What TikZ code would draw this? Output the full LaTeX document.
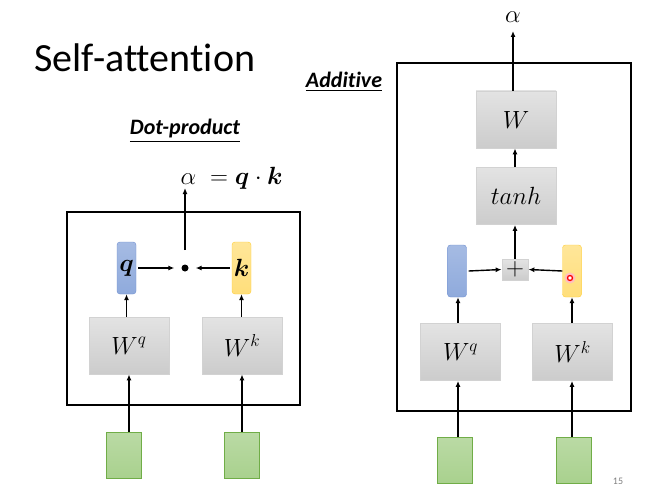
\documentclass[tikz,border=0pt]{standalone}
\usepackage{amsmath, amssymb}
\usepackage{fontspec}
\setsansfont{Carlito}[Ligatures=NoCommon]
\usepackage{tikz}
\usetikzlibrary{positioning, arrows.meta, calc}

\definecolor{qblue}{HTML}{8FAADC}
\definecolor{qblueb}{HTML}{6F8FD0}
\definecolor{kyel}{HTML}{FFE699}
\definecolor{kyelb}{HTML}{FFC000}
\definecolor{xgreen}{HTML}{A9D18E}
\definecolor{xgreenb}{HTML}{70AD47}

\begin{document}
\begin{tikzpicture}[x=1pt, y=-1pt,
      wbox/.style={draw=gray!35, line width=0.8pt, top color=gray!22, bottom color=gray!40, minimum width=80pt, minimum height=57pt, inner sep=0pt, font=\fontsize{24}{24}\selectfont},
      qbar/.style={draw=qblueb, rounded corners=3pt, top color=qblue!80, bottom color=qblue, minimum width=19pt, minimum height=52pt, inner sep=0pt, font=\fontsize{23}{23}\selectfont},
      kbar/.style={draw=kyelb!80, rounded corners=3pt, top color=kyel, bottom color=kyel!80!kyelb, minimum width=19pt, minimum height=52pt, inner sep=0pt, font=\fontsize{23}{23}\selectfont},
      xin/.style={draw=xgreenb, line width=0.8pt, top color=xgreen!80, bottom color=xgreen, minimum width=35pt, minimum height=46pt, inner sep=0pt},
      frame/.style={draw, line width=2.6pt},
      conn/.style={-{Latex[length=6pt, width=5pt]}, line width=1.4pt},
      heading/.style={font=\sffamily\bfseries\itshape\fontsize{22}{22}\selectfont}]
      \useasboundingbox (0,0) rectangle (660,492);
      % title and headings
      \node[anchor=base west, font=\sffamily\fontsize{40}{40}\selectfont] (title) at (31,72) {Self-attention};
      \node[heading] (dphead) at (185,131) {\underline{Dot-product}};
      \node[heading] (adhead) at (344,82) {\underline{Additive}};
      \node[text=gray, font=\sffamily\fontsize{10}{10}\selectfont] (pnum) at (618,481) {15};

      % dot-product
      \draw[frame] (67,212) rectangle (300,405);
      \node[wbox] (wq) at (129,345.5) {$W^q$};
      \node[wbox] (wk) at (242,345.5) {$W^k$};
      \node[qbar] (q) at (126.5,268) {$\boldsymbol{q}$};
      \node[kbar] (k) at (241.5,268) {$\boldsymbol{k}$};
      \node[circle, fill, inner sep=0pt, minimum size=7pt] (dot) at (185,268) {};
      \node[xin] (xq) at (124,455) {};
      \node[xin] (xk) at (241.5,455) {};
      \node[anchor=base west, font=\fontsize{23}{23}\selectfont] (dpout) at (177,184) {$\alpha\ = \boldsymbol{q}\cdot\boldsymbol{k}$};
      \coordinate (dptop) at (185,250);
      \coordinate (dpend) at (185,188);
      \draw[conn] (xq.north -| wq.south) -- (wq.south);
      \draw[conn] (xk.north -| wk.south) -- (wk.south);
      \draw[conn] (q.south |- wq.north) -- (q.south);
      \draw[conn] (k.south |- wk.north) -- (k.south);
      \draw[conn] ($(q.east)+(2,0)$) -- ($(dot.west)+(-7,0)$);
      \draw[conn] ($(k.west)+(-2,0)$) -- ($(dot.east)+(7,0)$);
      \draw[conn] (dptop) -- (dpend);

      % additive
      \draw[frame] (397,63) rectangle (631,411);
      \node[wbox] (aw) at (516,119.5) {$W$};
      \node[wbox] (th) at (516,196) {$tanh$};
      \node[wbox, minimum width=26pt, minimum height=21pt] (plus) at (515,269.5) {$+$};
      \node[qbar] (aq) at (457,271) {};
      \node[kbar] (ak) at (572,271) {};
      \node[circle, fill=red!25, inner sep=0pt, minimum size=11pt] (ptrglow) at (570,278) {};
      \node[circle, draw=red, fill=white, line width=1.3pt, inner sep=0pt, minimum size=5pt] (ptr) at (570,278) {};
      \node[wbox] (awq) at (460.5,352) {$W^q$};
      \node[wbox] (awk) at (572.5,352) {$W^k$};
      \node[xin] (axq) at (455,460) {};
      \node[xin] (axk) at (574,460) {};
      \node[font=\fontsize{23}{23}\selectfont] (aout) at (513,17) {$\alpha$};
      \coordinate (adend) at (513,31);
      \draw[conn] (axq.north -| 458,0) -- (awq.south -| 458,0);
      \draw[conn] (axk.north -| 572,0) -- (awk.south -| 572,0);
      \draw[conn] (awq.north -| 458,0) -- (aq.south -| 458,0);
      \draw[conn] (awk.north -| 572,0) -- (ak.south -| 572,0);
      \draw[conn] ($(aq.east)+(2,0)$) -- (plus.west);
      \draw[conn] ($(ak.west)+(0,0)$) -- (plus.east);
      \draw[conn] (plus.north) -- (th.south -| plus.north);
      \draw[conn] (th.north -| plus.north) -- (aw.south -| plus.north);
      \draw[conn] (aw.north -| adend) -- (adend);
    \end{tikzpicture}
\end{document}
